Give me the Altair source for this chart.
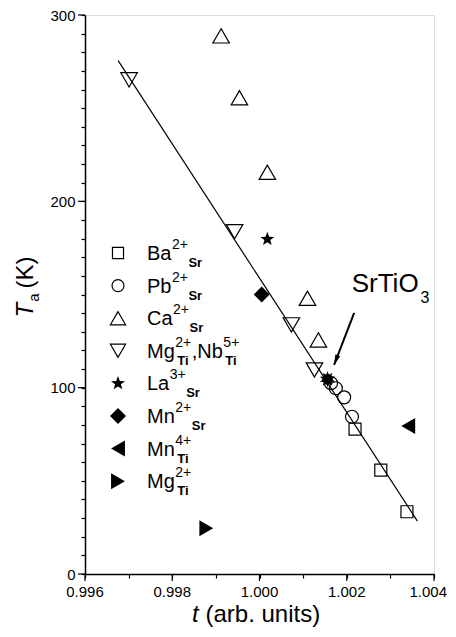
import math
import altair as alt
import pandas as pd

# ---------------- data ----------------
ba_t = [1.00219, 1.00278, 1.00338]
ba_T = [77.7, 55.8, 33.4]
pb_t = [1.00164, 1.00175, 1.00194, 1.00212]
pb_T = [102.4, 99.7, 94.8, 84.4]
ca_t = [0.99912, 0.99954, 1.00018, 1.00110, 1.00135]
ca_T = [288.8, 255.6, 215.6, 148.0, 125.6]
mgnb_t = [0.99701, 0.99943, 1.00073, 1.00126]
mgnb_T = [265.2, 183.7, 133.7, 109.5]
la_t = [1.00018]
la_T = [179.7]
mnsr_t = [1.00005]
mnsr_T = [150.0]
mnti_t = [1.00341]
mnti_T = [79.4]
mgti_t = [0.99878]
mgti_T = [24.5]
sto_t = [1.00156]
sto_T = [104.5]
fit_t = [0.99676, 1.00362]
fit_T = [275.5, 28.4]
arrow_start = [1.00217, 140.1]
arrow_tip = [1.00171, 112.2]

x_tick_values = [0.996, 0.997, 0.998, 0.999, 1.000, 1.001, 1.002, 1.003, 1.004]
x_major_values = [0.996, 0.998, 1.000, 1.002, 1.004]
x_major_labels = ["0.996", "0.998", "1.000", "1.002", "1.004"]
y_tick_values = [0, 10, 20, 30, 40, 50, 60, 70, 80, 90, 100, 110, 120, 130, 140,
                 150, 160, 170, 180, 190, 200, 210, 220, 230, 240, 250, 260, 270,
                 280, 290, 300]
y_major_values = [0, 100, 200, 300]

legend_base = ["Ba", "Pb", "Ca", "Mg", "La", "Mn", "Mn", "Mg"]
legend_sup = ["2+", "2+", "2+", "2+", "3+", "2+", "4+", "2+"]
legend_sub = ["Sr", "Sr", "Sr", "Ti", "Sr", "Sr", "Ti", "Ti"]
legend_extra = [",Nb", "5+", "Ti"]

FONT = "Liberation Sans"

# ---------------- helpers ----------------
WID = {'B': 667, 'a': 556, 'P': 667, 'b': 556, 'C': 722, 'M': 833, 'g': 556,
       'N': 722, 'L': 556, 'n': 556, 'T': 611, 'i': 222, 'S': 667, 'r': 333,
       ',': 278, '2': 556, '3': 556, '4': 556, '5': 556, '+': 584, 'O': 778,
       ' ': 278, '(': 333, ')': 333, 'K': 667, 't': 278, 'u': 556, 's': 500,
       '.': 278}
WIDB = dict(WID, r=389, i=278)


def tw(s, size, bold=False):
    table = WIDB if bold else WID
    return sum(table.get(c, 556) for c in s) / 1000.0 * size


def star_path(inner=0.42):
    pts = []
    for k in range(10):
        ang = math.radians(-90 + k * 36)
        r = 1.0 if k % 2 == 0 else inner
        pts.append(f"{r * math.cos(ang):.3f},{r * math.sin(ang):.3f}")
    return "M" + "L".join(pts) + "Z"


STAR = star_path()
ARROW_HEAD = "M0,0L0.4,1.6L-0.4,1.6Z"

xscale = alt.Scale(domain=[0.996, 1.004], nice=False, zero=False)
yscale = alt.Scale(domain=[0, 300], nice=False, zero=False)

common_axis = dict(title=None, grid=False, labelFont=FONT, labelFontSize=15,
                   labelColor="black", domainColor="black", domainWidth=1.5,
                   tickColor="black", tickWidth=1.2, tickSize=4,
                   labelOverlap=False, labelFlush=False)

xaxis = alt.Axis(values=x_tick_values, labels=False, **common_axis)
yaxis = alt.Axis(
    values=y_tick_values,
    labelExpr="datum.value % 100 == 0 ? datum.label : ''",
    labelPadding=6, **common_axis)

W, H = 349, 559


def X(f="t"):
    return alt.X(f"{f}:Q", scale=xscale, axis=xaxis)


def Y(f="T"):
    return alt.Y(f"{f}:Q", scale=yscale, axis=yaxis)


def pts(ts, Ts, shape, size, filled, angle=0):
    df = pd.DataFrame({"t": ts, "T": Ts})
    if filled:
        m = alt.Chart(df).mark_point(shape=shape, size=size, filled=True,
                                     fill="black", strokeWidth=0, opacity=1,
                                     angle=angle)
    else:
        m = alt.Chart(df).mark_point(shape=shape, size=size, filled=False,
                                     stroke="black", strokeWidth=1.2, opacity=1,
                                     angle=angle)
    return m.encode(x=X(), y=Y())


def sym(shape, size, filled, px, py):
    df = pd.DataFrame({"k": [0]})
    if filled:
        m = alt.Chart(df).mark_point(shape=shape, size=size, filled=True,
                                     fill="black", strokeWidth=0, opacity=1)
    else:
        m = alt.Chart(df).mark_point(shape=shape, size=size, filled=False,
                                     stroke="black", strokeWidth=1.2, opacity=1)
    return m.encode(x=alt.value(px), y=alt.value(py))


def txt(s, px, py, size, italic=False, bold=False, align="left", angle=0):
    df = pd.DataFrame({"s": [s]})
    return alt.Chart(df).mark_text(
        align=align, baseline="alphabetic", font=FONT, fontSize=size,
        fontStyle="italic" if italic else "normal",
        fontWeight="bold" if bold else "normal", color="black", angle=angle
    ).encode(x=alt.value(px), y=alt.value(py), text="s:N")


layers = []

# fit line
layers.append(alt.Chart(pd.DataFrame({"t": fit_t, "T": fit_T}))
              .mark_line(color="black", strokeWidth=1.2)
              .encode(x=X(), y=Y()))

# longer major ticks
layers.append(alt.Chart(pd.DataFrame({"t": x_major_values}))
              .mark_rule(color="black", strokeWidth=1.2)
              .encode(x=X(), y=alt.value(H), y2=alt.value(H + 7)))
layers.append(alt.Chart(pd.DataFrame({"T": y_major_values}))
              .mark_rule(color="black", strokeWidth=1.2)
              .encode(y=Y(), x=alt.value(0), x2=alt.value(-7)))

# x tick labels (the last one nudged so it stays on the page)
xl = pd.DataFrame({"t": x_major_values, "lab": x_major_labels})
layers.append(alt.Chart(xl.iloc[:-1]).mark_text(
    align="center", baseline="top", font=FONT, fontSize=15, color="black")
    .encode(x=X(), y=alt.value(H + 11), text="lab:N"))
layers.append(alt.Chart(xl.iloc[-1:]).mark_text(
    align="right", baseline="top", font=FONT, fontSize=15, color="black", dx=13)
    .encode(x=X(), y=alt.value(H + 11), text="lab:N"))

# data series
SHAPES = [("square", 144, False), ("circle", 169, False), ("triangle-up", 272, False),
          ("triangle-down", 272, False), (STAR, 216, True), ("diamond", 256, True),
          ("triangle-left", 256, True), ("triangle-right", 256, True)]
series = [(ba_t, ba_T), (pb_t, pb_T), (ca_t, ca_T), (mgnb_t, mgnb_T),
          (la_t, la_T), (mnsr_t, mnsr_T), (mnti_t, mnti_T), (mgti_t, mgti_T)]
for (ts, Ts), (shape, size, filled) in zip(series, SHAPES):
    layers.append(pts(ts, Ts, shape, size, filled))

# SrTiO3 cluster (overlapping filled symbols)
layers.append(pts(sto_t, sto_T, "circle", 110, True))
layers.append(pts(sto_t, sto_T, STAR, 260, True))
layers.append(pts(sto_t, sto_T, STAR, 260, True, angle=36))

# arrow
layers.append(alt.Chart(pd.DataFrame({"t": [arrow_start[0]], "T": [arrow_start[1]],
                                      "t2": [arrow_tip[0]], "T2": [arrow_tip[1]]}))
              .mark_rule(color="black", strokeWidth=2)
              .encode(x=X(), y=Y(), x2="t2:Q", y2="T2:Q"))
layers.append(pts([arrow_tip[0]], [arrow_tip[1]], ARROW_HEAD, 169, True, angle=201))

# SrTiO3 label
layers.append(txt("SrTiO", 266.7, 276.7, 26))
layers.append(txt("3", 266.7 + tw("SrTiO", 26) + 1, 288, 16))

# legend
LX, TX, Y0, DY = 33, 62, 238, 32.6
for i in range(8):
    yy = Y0 + i * DY
    shape, size, filled = SHAPES[i]
    lsize = size * 0.85 if not filled else size
    layers.append(sym(shape, lsize, filled, LX, yy))
    x0 = TX
    pieces = [(legend_base[i], legend_sup[i], legend_sub[i])]
    if i == 3:
        pieces.append(tuple(legend_extra))
    for base, sup, sub in pieces:
        layers.append(txt(base, x0, yy + 7, 20))
        sx = x0 + tw(base, 20) + 0.5
        layers.append(txt(sup, sx, yy - 4, 14))
        if sub == "Sr":
            bx = sx + tw(sup, 14) + 0.5
        else:
            bx = sx + 2
        layers.append(txt(sub, bx, yy + 14, 13, bold=True))
        x0 = max(bx + tw(sub, 13, bold=True), sx + tw(sup, 14)) + 0.5

# y-axis title: T_a (K)
yT = 302.5
layers.append(txt("T", -52, yT, 24, italic=True, angle=270))
ya = yT - tw("T", 24) - 1
layers.append(txt("a", -46, ya, 15, angle=270))
yk = ya - tw("a", 15) - 5
layers.append(txt("(K)", -52, yk, 24, angle=270))

# x-axis title: t (arb. units)
layers.append(txt("t", 107, 607, 24, italic=True))
layers.append(txt("(arb. units)", 120.5, 607, 24))

chart = alt.layer(*layers).properties(
    width=W, height=H,
    padding={"left": 77, "top": 7, "right": 14, "bottom": 55},
    autosize=alt.AutoSizeParams(type="none"),
).configure_view(stroke="black", strokeWidth=1.5).configure(background="white")

chart.save("out.html", embed_options={"renderer": "svg", "actions": False})
